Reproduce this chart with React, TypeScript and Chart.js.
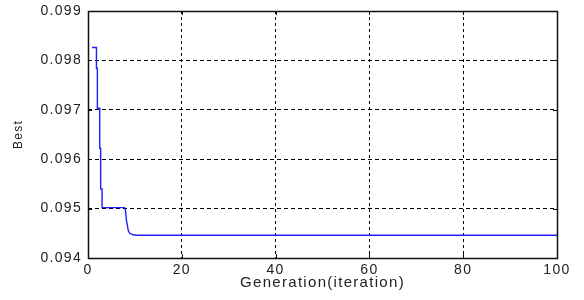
import React, { useEffect, useRef } from "react";
import { Chart, registerables } from "chart.js";

Chart.register(...registerables);

// Generation (x) and best fitness (y)
const generations = [0.85, 1.8, 1.8, 2.0, 2.0, 2.5, 2.5, 2.7, 2.7, 3.0, 3.0, 7.8, 8.0, 8.2, 8.6, 8.9, 9.6, 10.5, 100];
const bestValues = [0.09826, 0.09826, 0.09784, 0.09784, 0.09703, 0.09703, 0.09622, 0.09622, 0.0954, 0.0954, 0.09502, 0.09502, 0.09496, 0.09476, 0.09455, 0.0945, 0.09447, 0.09446, 0.09446];

const xTicks = [0, 20, 40, 60, 80, 100];
const yTicks = [0.094, 0.095, 0.096, 0.097, 0.098, 0.099];
const xTitle = "Generation(iteration)";
const yTitle = "Best";

const TEXT = "#222";

const spacingPlugin = {
  id: "spacing",
  beforeLayout(chart: any) {
    chart.ctx.letterSpacing = "1.3px";
  },
  beforeDraw(chart: any) {
    chart.ctx.letterSpacing = "1.3px";
  },
};

const boxPlugin = {
  id: "box",
  afterDraw(chart: any) {
    const { ctx, chartArea, scales } = chart;
    const { left, right, top, bottom } = chartArea;
    ctx.save();
    ctx.setLineDash([]);
    ctx.strokeStyle = "#111";
    ctx.lineWidth = 1;
    const L = 4;
    ctx.beginPath();
    for (const v of xTicks) {
      const x = Math.round(scales.x.getPixelForValue(v)) + 0.5;
      ctx.moveTo(x, bottom);
      ctx.lineTo(x, bottom - L);
      ctx.moveTo(x, top);
      ctx.lineTo(x, top + L);
    }
    for (const v of yTicks) {
      const y = Math.round(scales.y.getPixelForValue(v)) + 0.5;
      ctx.moveTo(left, y);
      ctx.lineTo(left + L, y);
      ctx.moveTo(right, y);
      ctx.lineTo(right - L, y);
    }
    ctx.stroke();
    ctx.lineWidth = 1.5;
    ctx.strokeRect(Math.round(left) + 0.5, Math.round(top) + 0.5, Math.round(right - left), Math.round(bottom - top));
    ctx.restore();
  },
};

export default function App() {
  const ref = useRef<HTMLCanvasElement | null>(null);
  useEffect(() => {
    if (!ref.current) return;
    const data = generations.map((g, i) => ({ x: g, y: bestValues[i] }));
    const chart = new Chart(ref.current, {
      type: "line",
      data: {
        datasets: [
          {
            data,
            borderColor: "rgb(30,30,255)",
            borderWidth: 1.4,
            pointRadius: 0,
            tension: 0,
            fill: false,
          },
        ],
      },
      options: {
        animation: false,
        responsive: false,
        devicePixelRatio: 1,
        layout: { padding: { top: 11, right: 27, left: 0, bottom: 0 } },
        plugins: { legend: { display: false }, tooltip: { enabled: false } },
        scales: {
          x: {
            type: "linear",
            min: 0,
            max: 100,
            afterBuildTicks: (s: any) => {
              s.ticks = xTicks.map((v) => ({ value: v }));
            },
            afterFit: (s: any) => {
              s.height = 42;
              s.paddingLeft = 0;
              s.paddingRight = 0;
            },
            grid: { color: "#000", lineWidth: 1, drawTicks: false },
            border: { display: false, dash: [3, 3] },
            ticks: {
              padding: 4,
              color: TEXT,
              font: { family: "Liberation Sans", size: 14 },
              maxRotation: 0,
              autoSkip: false,
              callback: (v: any) => String(v),
            },
            title: {
              display: true,
              text: xTitle,
              color: TEXT,
              font: { family: "Liberation Sans", size: 15 },
              padding: { top: 0, bottom: 8 },
            },
          },
          y: {
            type: "linear",
            min: 0.094,
            max: 0.099,
            afterBuildTicks: (s: any) => {
              s.ticks = yTicks.map((v) => ({ value: v }));
            },
            afterFit: (s: any) => {
              s.width = 88;
              s.paddingTop = 0;
              s.paddingBottom = 0;
            },
            grid: { color: "#000", lineWidth: 1, drawTicks: false },
            border: { display: false, dash: [4, 3] },
            ticks: {
              padding: 6,
              color: TEXT,
              font: { family: "Liberation Sans", size: 14 },
              autoSkip: false,
              callback: (v: any) => Number(v).toFixed(3),
            },
            title: {
              display: true,
              text: yTitle,
              color: TEXT,
              font: { family: "Liberation Sans", size: 12 },
              padding: { top: 11, bottom: 0 },
            },
          },
        },
      },
      plugins: [spacingPlugin, boxPlugin],
    });
    return () => chart.destroy();
  }, []);
  return (
    <div style={{ position: "absolute", left: 0, top: 0, width: 584, height: 300, background: "#fff" }}>
      <canvas ref={ref} width={584} height={300} style={{ display: "block" }} />
    </div>
  );
}
